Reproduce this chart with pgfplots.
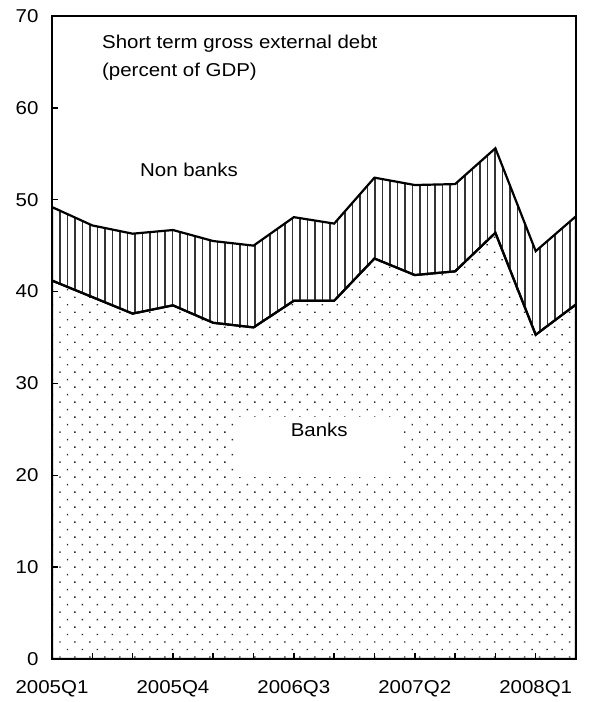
\documentclass[border=0pt]{standalone}
\usepackage{fontspec}
\setmainfont{Liberation Sans}[FakeStretch=1.1]
\usepackage{pgfplots}
\pgfplotsset{compat=1.18}
\usetikzlibrary{patterns.meta}

% short term gross external debt, percent of GDP
\pgfplotstableread{
q  banks nonbanks
0  41.2  8.0
1  39.4  7.8
2  37.6  8.7
3  38.5  8.2
4  36.6  8.9
5  36.1  8.9
6  39.0  9.1
7  39.0  8.4
8  43.6  8.8
9  41.8  9.8
10 42.2  9.5
11 46.4  9.2
12 35.3  9.1
13 38.6  9.6
}\debt

\begin{document}
\begin{tikzpicture}
\begin{axis}[
  scale only axis, width=524bp, height=643bp,
  xmin=0, xmax=13, ymin=0, ymax=70,
  stack plots=y, reverse stacked plots=false, axis on top,
  axis line style={line width=2bp},
  xtick={0,...,13},
  xticklabels={2005Q1,,,2005Q4,,,2006Q3,,,2007Q2,,,2008Q1,},
  ytick={0,10,...,70},
  xtick pos=bottom, ytick pos=left,
  tick align=inside, major tick length=6bp,
  tick style={line width=1.5bp, black},
  /pgf/number format/assume math mode=true,
  tick label style={font=\fontsize{18.6bp}{22bp}\selectfont},
  xticklabel shift=18bp, yticklabel shift=10bp,
]
\addplot[draw=black, line width=2.2bp,
  pattern={Dots[distance=10.6bp, angle=45, radius=1bp]}, pattern color=black!85]
  table[x=q, y=banks] {\debt} \closedcycle;
\addplot[draw=black, line width=2.2bp,
  pattern={Lines[angle=90, distance=7.5bp, line width=1.7bp]}, pattern color=black!80]
  table[x=q, y=nonbanks] {\debt} \closedcycle;

\fill[white] (axis cs:4.6,19.8) rectangle (axis cs:8.73,26.35);
\node[font=\fontsize{18.6bp}{22bp}\selectfont] at (axis cs:6.63,24.9) {Banks};
\node[font=\fontsize{18.6bp}{22bp}\selectfont] at (axis cs:3.40,53.3) {Non banks};
\node[font=\fontsize{18.6bp}{28bp}\selectfont, anchor=north west, inner sep=0pt, align=left]
  at (axis cs:1.24,67.9) {Short term gross external debt\\(percent of GDP)};

\coordinate (ll) at (rel axis cs:0,0);
\coordinate (ur) at (rel axis cs:1,1);
\end{axis}
\pgfresetboundingbox
\path[use as bounding box] ([xshift=-52bp,yshift=-43bp]ll) rectangle ([xshift=16bp,yshift=16bp]ur);
\end{tikzpicture}
\end{document}
